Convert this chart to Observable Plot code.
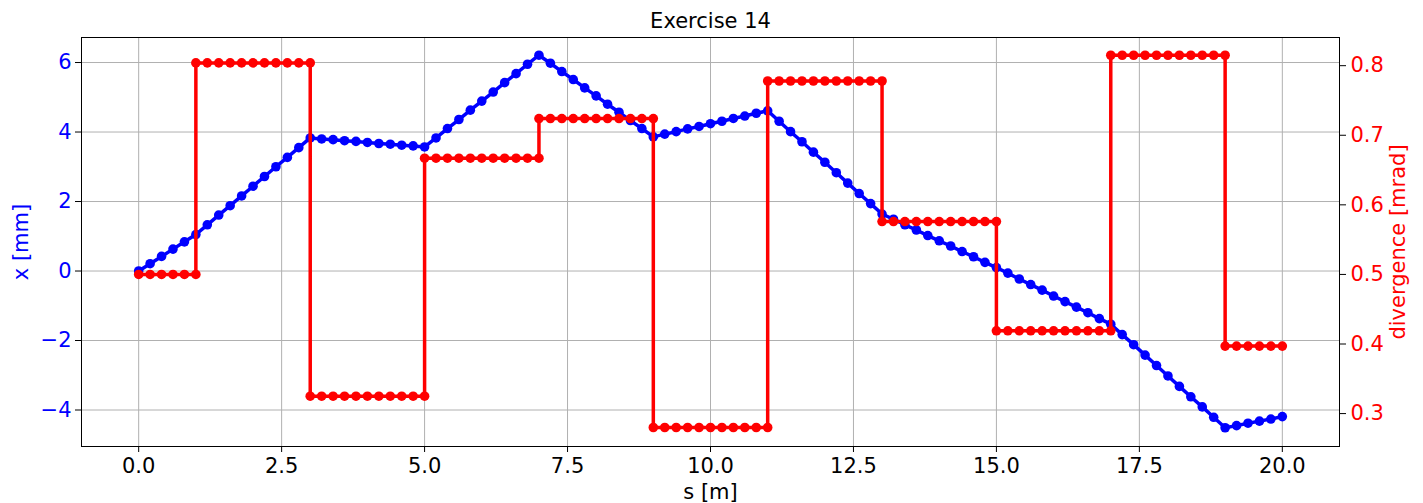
<!DOCTYPE html>
<html>
<head>
<meta charset="utf-8">
<script src="https://cdn.jsdelivr.net/npm/d3@7"></script>
<script src="https://cdn.jsdelivr.net/npm/@observablehq/plot@0.6"></script>
<style>
  html, body { margin: 0; padding: 0; background: #fff; }
  #chart { position: relative; width: 1423px; height: 503px; }
  #chart svg { position: absolute; left: 0; top: 0; }
</style>
</head>
<body>
<div id="chart"></div>
<script>
// Sample positions along the beam line [m]
const s = [
  0.0, 0.2, 0.4, 0.6, 0.8, 1.0, 1.2, 1.4, 1.6, 1.8, 2.0, 2.2, 2.4, 2.6, 2.8, 3.0,
  3.2, 3.4, 3.6, 3.8, 4.0, 4.2, 4.4, 4.6, 4.8, 5.0, 5.2, 5.4, 5.6, 5.8, 6.0,
  6.2, 6.4, 6.6, 6.8, 7.0, 7.2, 7.4, 7.6, 7.8, 8.0, 8.2, 8.4, 8.6, 8.8, 9.0,
  9.2, 9.4, 9.6, 9.8, 10.0, 10.2, 10.4, 10.6, 10.8, 11.0, 11.2, 11.4, 11.6, 11.8, 12.0,
  12.2, 12.4, 12.6, 12.8, 13.0, 13.2, 13.4, 13.6, 13.8, 14.0, 14.2, 14.4, 14.6, 14.8, 15.0,
  15.2, 15.4, 15.6, 15.8, 16.0, 16.2, 16.4, 16.6, 16.8, 17.0, 17.2, 17.4, 17.6, 17.8, 18.0,
  18.2, 18.4, 18.6, 18.8, 19.0, 19.2, 19.4, 19.6, 19.8, 20.0
];

// Transverse position x [mm] at each sample
const xPos = [
  0.00, 0.21, 0.42, 0.63, 0.84, 1.05, 1.33, 1.61, 1.88, 2.16, 2.44, 2.72, 3.00, 3.27, 3.55, 3.83,
  3.80, 3.78, 3.75, 3.73, 3.70, 3.67, 3.65, 3.62, 3.60, 3.57, 3.83, 4.10, 4.36, 4.63, 4.89,
  5.15, 5.42, 5.68, 5.95, 6.21, 5.98, 5.74, 5.51, 5.27, 5.04, 4.80, 4.57, 4.33, 4.10, 3.86,
  3.94, 4.01, 4.09, 4.16, 4.24, 4.31, 4.39, 4.46, 4.54, 4.61, 4.31, 4.01, 3.72, 3.42, 3.13,
  2.83, 2.53, 2.23, 1.94, 1.64, 1.49, 1.33, 1.18, 1.02, 0.87, 0.72, 0.56, 0.41, 0.25, 0.10,
  -0.06, -0.23, -0.39, -0.55, -0.72, -0.88, -1.04, -1.20, -1.37, -1.53, -1.83, -2.12, -2.42, -2.72, -3.02,
  -3.32, -3.62, -3.91, -4.21, -4.51, -4.45, -4.38, -4.32, -4.26, -4.19
];

// Elements along the line and the divergence [mrad] in each
const elementStart = [0, 1, 3, 5, 7, 9, 11, 13, 15, 17, 19];
const elementEnd   = [1, 3, 5, 7, 9, 11, 13, 15, 17, 19, 20];
const divergence   = [0.500, 0.804, 0.325, 0.667, 0.724, 0.280, 0.778, 0.576, 0.419, 0.815, 0.397];

// Axis ticks
const sTicks = [0, 2.5, 5, 7.5, 10, 12.5, 15, 17.5, 20];
const xTicks = [-4, -2, 0, 2, 4, 6];
const divTicks = [0.3, 0.4, 0.5, 0.6, 0.7, 0.8];

const title = "Exercise 14";
const sLabel = "s [m]";
const xLabel = "x [mm]";
const divLabel = "divergence [mrad]";

// Tables for the marks
const trajectory = s.map((v, i) => ({s: v, x: xPos[i]}));
const divergenceSteps = elementStart.flatMap((a, k) =>
  s.filter(v => v >= a - 1e-9 && v <= elementEnd[k] + 1e-9)
   .map(v => ({s: v, d: divergence[k]}))
);

const W = 1423, H = 503;
const margins = {marginLeft: 81, marginRight: 84, marginTop: 37, marginBottom: 57};
const font = "'DejaVu Sans', sans-serif";
const sDomain = [-1, 21];

const base = Plot.plot({
  width: W, height: H, ...margins,
  style: {fontFamily: font, fontSize: "21px", background: "white"},
  x: {domain: sDomain},
  y: {domain: [-5.05, 6.72]},
  marks: [
    Plot.gridX(sTicks, {stroke: "#b0b0b0", strokeOpacity: 1, strokeWidth: 1}),
    Plot.gridY(xTicks, {stroke: "#b0b0b0", strokeOpacity: 1, strokeWidth: 1}),
    Plot.line(trajectory, {x: "s", y: "x", stroke: "blue", strokeWidth: 3.5}),
    Plot.dot(trajectory, {x: "s", y: "x", r: 4.8, fill: "blue", stroke: "none"}),
    Plot.frame({stroke: "black", strokeWidth: 1}),
    Plot.axisX(sTicks, {tickSize: 6, tickPadding: 6, tickFormat: d3.format(".1f"),
      stroke: "black", fill: "black", label: null, fontSize: 21}),
    Plot.axisY(xTicks, {tickSize: 6, tickPadding: 4, tickFormat: d3.format("d"),
      stroke: "black", fill: "blue", label: null, fontSize: 21}),
    Plot.text([title], {text: d => d, frameAnchor: "top", dy: -16.7,
      fill: "black", fontSize: 21, textAnchor: "middle", lineAnchor: "middle"}),
    Plot.text([sLabel], {text: d => d, frameAnchor: "bottom", dy: 45.5,
      fill: "black", fontSize: 21, textAnchor: "middle", lineAnchor: "middle"}),
    Plot.text([xLabel], {text: d => d, frameAnchor: "left", dx: -60.7, rotate: -90,
      fill: "blue", fontSize: 21, textAnchor: "middle", lineAnchor: "middle"})
  ]
});

const overlay = Plot.plot({
  width: W, height: H, ...margins,
  style: {fontFamily: font, fontSize: "21px", background: "transparent"},
  x: {domain: sDomain, axis: null},
  y: {domain: [0.2527, 0.8405]},
  marks: [
    Plot.line(divergenceSteps, {x: "s", y: "d", stroke: "red", strokeWidth: 3.5}),
    Plot.dot(divergenceSteps, {x: "s", y: "d", r: 4.8, fill: "red", stroke: "none"}),
    Plot.axisY(divTicks, {anchor: "right", tickSize: 6, tickPadding: 5,
      tickFormat: d3.format(".1f"), stroke: "black", fill: "red", label: null, fontSize: 21}),
    Plot.text([divLabel], {text: d => d, frameAnchor: "right", dx: 59, rotate: -90,
      fill: "red", fontSize: 21, textAnchor: "middle", lineAnchor: "middle"})
  ]
});

const chart = document.getElementById("chart");
chart.appendChild(base);
chart.appendChild(overlay);
</script>
</body>
</html>
